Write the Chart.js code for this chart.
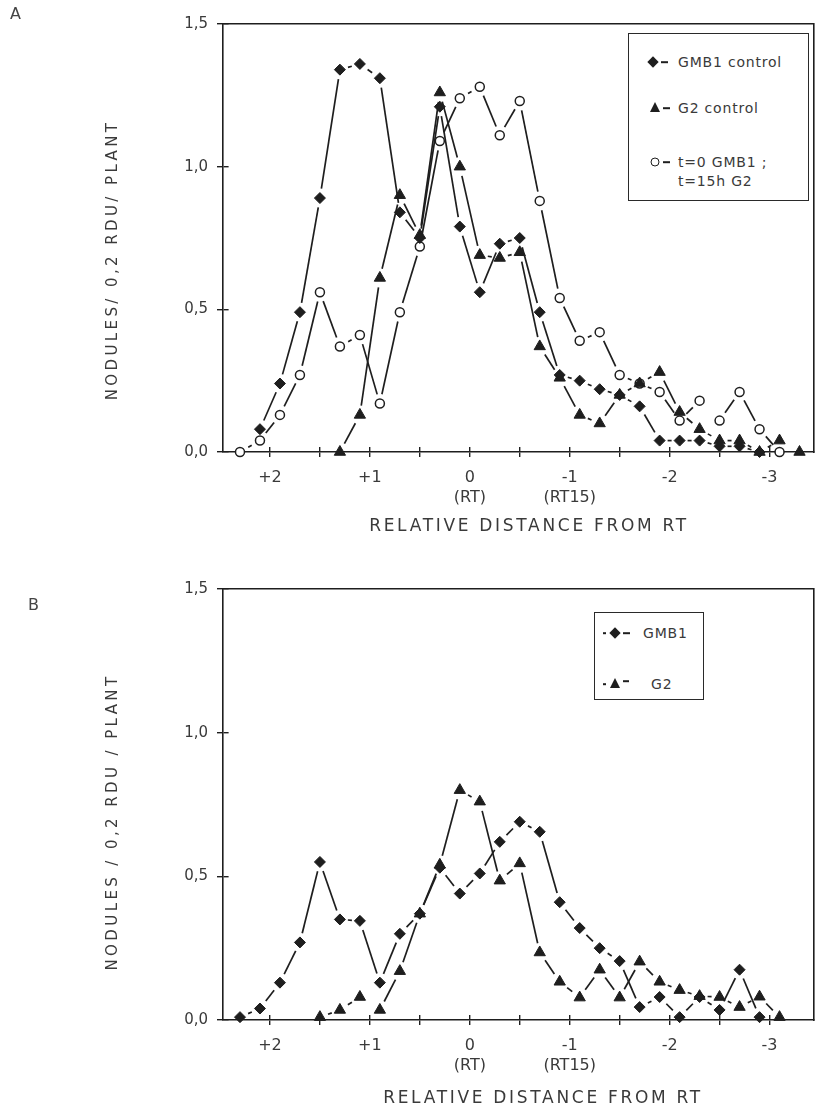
<!DOCTYPE html>
<html>
<head>
<meta charset="utf-8">
<script src="https://cdn.jsdelivr.net/npm/chart.js@4.4.0/dist/chart.umd.min.js"></script>
<style>
  body { margin: 0; background: #fff; font-family: 'DejaVu Sans', sans-serif; color: #3a3a3a; }
  #page { position: relative; width: 821px; height: 1110px; overflow: hidden; }
  .panel { position: absolute; left: 0; width: 821px; }
  .letter { position: absolute; font-size: 16px; color: #444; }
  .ytitle { position: absolute; white-space: nowrap; font-size: 15px; letter-spacing: 3.4px; transform: translate(-50%, -50%) rotate(-90deg); }
  .xtitle { position: absolute; white-space: nowrap; font-size: 17px; letter-spacing: 2.7px; transform: translate(-50%, -50%); }
  .legend { position: absolute; border: 1.5px solid #2a2a2a; background: #fff; box-sizing: border-box; }
  .entry { position: absolute; white-space: nowrap; font-size: 14px; letter-spacing: 0.8px; transform: translateY(-50%); }
  .mk { position: absolute; transform: translate(-50%, -50%); }
  .dia { width: 8px; height: 8px; background: #1e1e1e; transform: translate(-50%, -50%) rotate(45deg); }
  .tri { width: 0; height: 0; border-left: 5.5px solid transparent; border-right: 5.5px solid transparent; border-bottom: 10px solid #1e1e1e; }
  .cir { width: 7px; height: 7px; border: 1.5px solid #1e1e1e; border-radius: 50%; background: #fff; }
  .dash { position: absolute; height: 1.6px; background: #1e1e1e; transform: translateY(-50%); }
</style>
</head>
<body>
<div id="page">
  <div class="panel" style="top:0;height:560px"><canvas id="chartA"></canvas></div>
  <div class="panel" style="top:565px;height:545px"><canvas id="chartB"></canvas></div>

  <div class="letter" style="left:10px;top:4px">A</div>
  <div class="letter" style="left:28px;top:595px">B</div>

  <div class="ytitle" style="left:112px;top:260px">NODULES/ 0,2 RDU/ PLANT</div>
  <div class="ytitle" style="left:112px;top:822px">NODULES / 0,2 RDU / PLANT</div>

  <div class="xtitle" style="left:529px;top:525px">RELATIVE DISTANCE FROM RT</div>
  <div class="xtitle" style="left:543px;top:1097px">RELATIVE DISTANCE FROM RT</div>

  <div class="legend" style="left:628px;top:33px;width:181px;height:168px">
    <div class="mk dia" style="left:24px;top:28px"></div><div class="dash" style="left:32px;top:28px;width:7px"></div>
    <div class="entry" style="left:49px;top:28px">GMB1 control</div>
    <div class="mk tri" style="left:26px;top:73px"></div><div class="dash" style="left:34px;top:74px;width:7px"></div>
    <div class="entry" style="left:49px;top:74px">G2 control</div>
    <div class="mk cir" style="left:26px;top:128px"></div><div class="dash" style="left:34px;top:128px;width:7px"></div>
    <div class="entry" style="left:49px;top:128px">t=0 GMB1 ;</div>
    <div class="entry" style="left:49px;top:147px">t=15h G2</div>
  </div>

  <div class="legend" style="left:594px;top:612px;width:110px;height:88px">
    <div class="dash" style="left:8px;top:20px;width:3px"></div>
    <div class="mk dia" style="left:20px;top:20px"></div><div class="dash" style="left:28px;top:20px;width:7px"></div>
    <div class="entry" style="left:48px;top:20px">GMB1</div>
    <div class="dash" style="left:8px;top:71px;width:3px"></div>
    <div class="mk tri" style="left:20px;top:70px"></div><div class="dash" style="left:28px;top:68px;width:6px"></div>
    <div class="entry" style="left:56px;top:71px">G2</div>
  </div>
</div>

<script>
// bin centres (relative distance from RT), 0,2 RDU apart
const positions = [2.3, 2.1, 1.9, 1.7, 1.5, 1.3, 1.1, 0.9, 0.7, 0.5, 0.3, 0.1, -0.1, -0.3, -0.5,
  -0.7, -0.9, -1.1, -1.3, -1.5, -1.7, -1.9, -2.1, -2.3, -2.5, -2.7, -2.9, -3.1, -3.3];

// panel A
const gmb1ControlA = [null, 0.08, 0.24, 0.49, 0.89, 1.34, 1.36, 1.31, 0.84, 0.75, 1.21, 0.79, 0.56, 0.73, 0.75,
  0.49, 0.27, 0.25, 0.22, 0.20, 0.16, 0.04, 0.04, 0.04, 0.02, 0.02, 0.00, null, null];
const g2ControlA = [null, null, null, null, null, 0.00, 0.13, 0.61, 0.90, 0.76, 1.26, 1.00, 0.69, 0.68, 0.70,
  0.37, 0.26, 0.13, 0.10, 0.20, 0.24, 0.28, 0.14, 0.08, 0.04, 0.04, 0.00, 0.04, 0.00];
const mixedA = [0.00, 0.04, 0.13, 0.27, 0.56, 0.37, 0.41, 0.17, 0.49, 0.72, 1.09, 1.24, 1.28, 1.11, 1.23,
  0.88, 0.54, 0.39, 0.42, 0.27, 0.24, 0.21, 0.11, 0.18, 0.11, 0.21, 0.08, 0.00, null];

// panel B
const gmb1B = [0.01, 0.04, 0.13, 0.27, 0.55, 0.35, 0.345, 0.13, 0.30, 0.37, 0.53, 0.44, 0.51, 0.62, 0.69,
  0.655, 0.41, 0.32, 0.25, 0.205, 0.045, 0.08, 0.01, 0.08, 0.035, 0.175, 0.01, null, null];
const g2B = [null, null, null, null, 0.01, 0.035, 0.08, 0.035, 0.17, 0.37, 0.54, 0.80, 0.76, 0.485, 0.545,
  0.235, 0.133, 0.078, 0.175, 0.078, 0.203, 0.133, 0.104, 0.083, 0.08, 0.045, 0.081, 0.01, null];

const xTickValues = [2, 1, 0, -1, -2, -3];
const xTickLabels = ['+2', '+1', '0', '-1', '-2', '-3'];
const xSubLabels = ['', '', '(RT)', '(RT15)', '', ''];
const yTickValues = [0, 0.5, 1.0, 1.5];
const yTickLabels = ['0,0', '0,5', '1,0', '1,5'];

const INK = '#1e1e1e';
const TEXT = '#3a3a3a';

function toPoints(ys) {
  return positions.map((x, i) => ({ x, y: ys[i] })).filter(p => p.y !== null);
}

// leave a gap at both ends of every segment, like the hand-drawn curves;
// short segments keep only a small dash in the middle
function gapDash(ctx) {
  const len = Math.hypot(ctx.p1.x - ctx.p0.x, ctx.p1.y - ctx.p0.y);
  const gap = 9.5;
  if (len <= gap * 2 + 4) {
    const d = Math.min(4, len * 0.3);
    return [0, (len - d) / 2, d, len + 50];
  }
  return [0, gap, len - gap * 2, len + 50];
}

const markers = {
  diamond: { pointStyle: 'rectRot', pointRadius: 5.5, pointBackgroundColor: INK, pointBorderWidth: 1 },
  triangle: { pointStyle: 'triangle', pointRadius: 6.5, pointBackgroundColor: INK, pointBorderWidth: 1 },
  circle: { pointStyle: 'circle', pointRadius: 4.5, pointBackgroundColor: '#fff', pointBorderWidth: 1.5 }
};

function series(label, ys, marker) {
  return Object.assign({
    label,
    data: toPoints(ys),
    borderColor: INK,
    borderWidth: 1.7,
    pointBorderColor: INK,
    tension: 0,
    clip: false,
    segment: { borderDash: gapDash }
  }, markers[marker]);
}

function makeChart(id, datasets, xAxisHeight, plotHeight, padRight) {
  new Chart(document.getElementById(id), {
    type: 'line',
    data: { datasets },
    options: {
      animation: false,
      responsive: true,
      maintainAspectRatio: false,
      layout: { padding: { top: 24, right: padRight, left: 0, bottom: 0 } },
      plugins: { legend: { display: false }, tooltip: { enabled: false } },
      scales: {
        x: {
          type: 'linear', reverse: true, min: -3.44, max: 2.47,
          afterFit: s => { s.height = xAxisHeight; },
          ticks: {
            stepSize: 0.5, autoSkip: false, maxRotation: 0, includeBounds: false, padding: 10,
            color: TEXT, font: { family: 'DejaVu Sans', size: 16, lineHeight: 1.3 },
            callback: v => {
              const i = xTickValues.indexOf(v);
              if (i < 0) return '';
              return xSubLabels[i] ? [xTickLabels[i], xSubLabels[i]] : xTickLabels[i];
            }
          },
          grid: { drawOnChartArea: true, drawTicks: true, tickLength: 5, color: INK, lineWidth: 1.4 },
          border: { color: INK, width: 1.6, dash: [0, plotHeight - 5, 5, 2000] }
        },
        y: {
          min: 0, max: 1.5,
          afterFit: s => { s.width = 223; },
          ticks: {
            stepSize: 0.5, padding: 9, color: TEXT, font: { family: 'DejaVu Sans', size: 15 },
            callback: v => {
              const i = yTickValues.findIndex(t => Math.abs(t - v) < 1e-6);
              return i < 0 ? '' : yTickLabels[i];
            }
          },
          grid: { drawOnChartArea: true, drawTicks: true, tickLength: 6, color: INK, lineWidth: 1.4 },
          border: { color: INK, width: 1.6, dash: [5, 2000] }
        },
        x2: {
          type: 'linear', position: 'top', min: 0, max: 1,
          afterFit: s => { s.height = 0; },
          ticks: { display: false }, grid: { display: false },
          border: { display: true, color: INK, width: 1.6 }
        },
        y2: {
          type: 'linear', position: 'right', min: 0, max: 1,
          afterFit: s => { s.width = 0; },
          ticks: { display: false }, grid: { display: false },
          border: { display: true, color: INK, width: 1.6 }
        }
      }
    }
  });
}

makeChart('chartA', [
  series('GMB1 control', gmb1ControlA, 'diamond'),
  series('G2 control', g2ControlA, 'triangle'),
  series('t=0 GMB1 ; t=15h G2', mixedA, 'circle')
], 108, 428, 4);

makeChart('chartB', [
  series('GMB1', gmb1B, 'diamond'),
  series('G2', g2B, 'triangle')
], 90, 431, 3);
</script>
</body>
</html>
